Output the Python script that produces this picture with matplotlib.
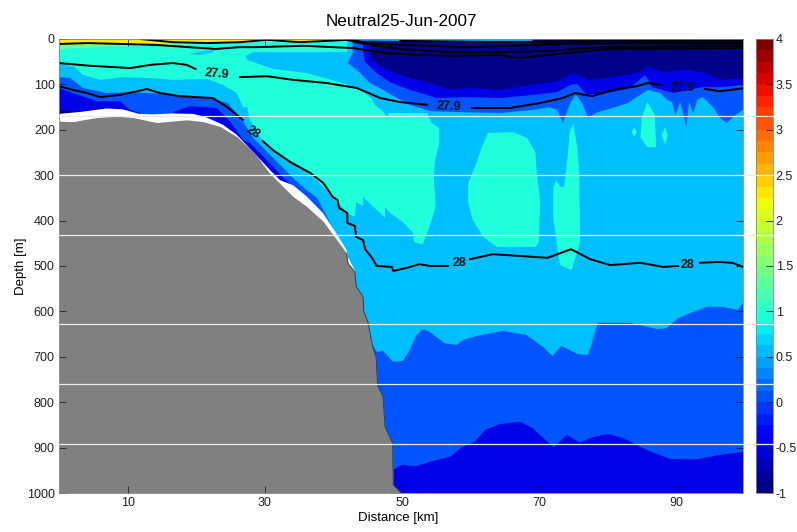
import numpy as np
from matplotlib import pyplot as plt
from matplotlib.cm import ScalarMappable
from matplotlib.colors import Normalize

plt.rcParams['font.family'] = ['Liberation Sans', 'DejaVu Sans']

# all outlines are (distance km, depth m) read from the section
turq_big = [(0,0),(42,0),(42,29),(46,145),(47.5,163),(50.7,163),(53.6,163),(54.3,185),(55.4,196),(55.4,229),
            (54.8,267),(54.6,304),(54.9,370),(53.8,421),(53,452),(51.7,447),(51.6,427),(50.1,403),(48.2,383),
            (47.5,370),(47.5,394),(44.3,348),(44.3,368),(43.3,359),(43.1,392),(42,383),(37.6,311),(34.7,278),
            (32.2,256),(29.3,216),(27.8,178),(27.4,150),(26.8,150),(25.9,119),(23.9,101),(21.6,88),(16.6,90),
            (13.3,86),(9.3,84),(6,90),(3.5,79),(2.3,62),(0,53)]
sky_patch = [(27.2,37),(28.3,29),(42,29),(48,29),(48,172),(47.8,172),(46.3,139),(43.9,112),(40.9,95),(36.1,75),
             (31.2,66),(27.4,46)]
sky_spot = [(19.1,33),(20.5,28),(22.8,24),(22.3,30),(20.5,35)]
turq_mid = [(62.5,207),(66.1,205),(68.2,218),(69.4,249),(69.6,295),(70.1,355),(69.9,449),(69.4,458),(63.8,458),
            (61.8,436),(60.3,399),(59.6,361),(59.6,317),(60.6,282),(61.6,238)]
turq_spike = [(74.9,185),(75.5,238),(75.8,295),(75.9,427),(75.9,449),(74.9,498),(74.7,509),(73,498),(72.6,458),
              (72,392),(72,328),(72.4,311),(73.1,326),(73.6,326),(74,273),(74.4,207)]
turq_right = [(85.7,139),(86.8,167),(87,238),(85.7,238),(84.7,216),(84.9,174)]
turq_dot1 = [(83.4,205),(83.8,195),(84.2,205),(83.8,215)]
turq_dot2 = [(87.8,212),(88.3,194),(88.7,212),(88.3,232)]

deep_blue_edge = [(45.7,674),(46.3,689),(47.2,687),(48.7,711),(50.1,709),(51.1,685),(52,654),(53,639),(54,645),
                  (56.2,670),(57.9,674),(58.9,663),(60.9,654),(64.7,643),(68.1,652),(70.5,678),(71.9,698),
                  (73.2,676),(75.6,694),(77.1,696),(78.5,625),(83.2,625),(87.1,639),(88.5,637),(90.2,615),
                  (92.4,601),(94.4,590),(96.7,590),(98.9,597),(100,575)]
bottom_edge = [(48.7,949),(49.9,938),(52.1,941),(54.1,931),(57,920),(58.7,899),(60.6,887),(62.1,861),(64.3,848),
               (67.2,843),(69,857),(71,885),(72.1,899),(74,872),(75.9,889),(77.8,877),(80,870),(82.2,879),
               (85.6,905),(89,925),(92.9,926),(96.3,916),(100,909)]

top_blue_edge = [(42.8,29),(42.1,53),(43.9,75),(45.3,97),(47.2,112),(49.7,134),(51.1,145),(54.1,159),(58.4,161),
                 (64.3,163),(69.1,156),(71.5,150),(72.6,156),(73.4,185),(74.5,141),(75.3,123),(76.2,141),
                 (77.1,174),(78.5,161),(80.7,152),(82.9,141),(84.7,123),(85.8,112),(87.6,119),(88.6,134),
                 (89.3,139),(89.8,167),(90.5,139),(90.9,163),(91.4,194),(91.8,139),(92.4,163),(93,134),
                 (93.8,128),(95.3,150),(96.3,174),(97.3,185),(98.2,172),(100,152)]
top_dark_edge = [(44.3,29),(44.6,51),(46.3,75),(48.2,95),(51.1,112),(55.1,130),(59.4,128),(64.3,130),(69.1,123),
                 (72.6,117),(74.5,101),(75.5,99),(76.9,123),(80.7,117),(83.2,108),(85.4,79),(86.4,106),
                 (89.5,119),(93.8,106),(96.3,106),(100,101)]
top_navy_edge = [(45.3,29),(45.6,46),(47.8,68),(50.7,84),(54.1,97),(57,112),(59.4,108),(64.3,112),(69.1,101),
                 (72.6,93),(74.9,75),(77.4,90),(80.7,84),(84.2,75),(85.7,62),(88,73),(90.9,68),(93.8,73),
                 (96.3,90),(100,86)]
surface_black = [(69,0),(69,9),(72,13),(100,13),(100,0)]
surface_teal = [(42,0),(42,3),(50,4),(69,4),(69,0)]
surface_green = [(0,0),(0,22),(7,17),(14,13),(22,11),(28,7),(28,0)]
surface_yellow = [(0,0),(0,9),(10,11),(20,9),(27.8,7),(35,6),(41.4,3),(42,0)]
surface_red = [(0,0),(0,2),(4,2),(4,0)]

slope_blue = [(0,84),(1.6,86),(3.5,108),(7,119),(10.3,117),(13.3,119),(16.6,123),(21.6,128),(24.5,141),(26.4,172),
              (28.3,218),(31.2,262),(34.1,306),(36.1,333),(37.6,350),(39.9,416),(39.9,500),(0,500)]
slope_dark1 = [(0,108),(2,119),(5.5,137),(8.9,137),(10.3,156),(11.8,163),(11.8,250),(0,250)]
slope_dark2 = [(16.6,161),(19.1,148),(23,152),(24.9,181),(26.8,222),(27.8,229),(30.7,273),(32.6,304),(35.4,344),
               (35.4,400),(16.6,300)]
slope_navy = [(0,155),(2.4,160),(5,165),(5,200),(0,200)]
white_gap = [(0,165),(3.5,160),(6.9,153),(9.3,155),(11.7,165),(13.7,166),(16.6,164),(19.5,165),(21.4,172),(23.9,189),
             (25.9,211),(27.8,241),(30.7,288),(32.2,311),(34.1,322),(36.1,347),(38.5,384),(40.7,435),(41.9,465),
             (42.1,480),(43.1,510),(43.3,545),(43.3,1000),(0,1000)]

bottom_km = [0,2.1,3.5,5.5,8.4,10.8,14.2,15.7,18.6,21,23.5,25.9,28.3,30.7,34.1,36.1,38.5,40.7,41.9,42.1,43.1,43.3,
             44.3,44.4,45,45.7,46.2,46.4,47.2,47.5,48.6,48.7,49.9]
bottom_m = [181,182,178,173,170,173,184,182,178,182,193,215,248,296,347,369,402,447,472,494,513,545,568,600,623,678,
            700,762,788,854,890,982,1000]

lines = [
    [(0,104),(2,112),(4.1,119),(6,128),(8.9,123),(11.4,115),(12.8,110),(14.7,119),(17.6,126),(22.4,130),(24.5,150),(26.8,178)],
    [(29.7,225),(31.2,245),(33.7,271),(36.6,295),(38.5,317),(39.9,348),(40.6,355),(40.8,372),(42,383),(42,405),(43.1,412),
     (43.3,436),(44.3,443),(44.6,463),(45.6,482),(46.3,500),(48.5,502),(48.7,511),(50.7,504),(52.5,496),(54.1,500),(56.7,500)],
    [(59.9,485),(63.2,474),(67.2,478),(71.2,482),(74.6,463),(77.4,485),(80.3,498),(84.7,493),(88,502),(90.2,500)],
    [(93.4,493),(96,491),(98.1,493),(100,504)],
    [(0,53),(4.5,59),(10.4,64),(13.3,57),(16.6,53),(18.6,57),(19.9,66)],
    [(26.4,84),(30.3,82),(34.1,90),(39,97),(43.4,108),(46.8,130),(49.7,139),(53.6,145)],
    [(60.2,152),(65.7,152),(70.1,141),(73.4,130),(75.2,119),(77.7,126),(80.7,112),(84.2,104),(85.8,97),(87.6,101)],
    [(94.1,110),(96.3,115),(100,108)],
    [(0,11),(4.2,9),(9.3,11),(14.1,13),(18.9,18),(22.8,22),(26.2,18),(28.7,18),(35.7,15),(42.8,20),(47.6,31),(52.6,35),
     (57.4,37),(64.3,35),(66.7,42),(74,31),(79.8,22),(100,20)],
    [(11.8,0),(16.6,7),(21.6,9),(26.4,7),(30.3,2),(35.1,7),(42,2),(43.9,9),(49.7,22),(57,29),(64.3,29),(71.5,26),(78.8,18),(100,15)],
    [(42.3,0),(44.9,9),(49.7,13),(59.4,18),(78.8,9),(100,9)],
    [(49.7,4),(64.3,7),(100,2)],
]
labels = [(23,77,'27.9',-5),(56.8,150,'27.9',-3),(90.8,108,'27.9',0),(28.3,205,'28',-35),(58.3,493,'28',0),(91.6,498,'28',0)]
white_depths = [170,300,432,628,760,892]

SKY = '#00bfff'
TURQ = '#20ffdc'
BLUE = '#0055ff'
DARK = '#0000e8'
NAVY = '#000088'


def poly(ax, pts, color):
    x, y = zip(*pts)
    ax.fill(x, y, color=color, lw=0)


def lower(ax, edge, color):
    x, y = zip(*edge)
    ax.fill(list(x) + [x[-1], x[0]], list(y) + [1000, 1000], color=color, lw=0)


def upper(ax, edge, color):
    x, y = zip(*edge)
    ax.fill(list(x) + [x[-1], x[0]], list(y) + [0, 0], color=color, lw=0)


fig = plt.figure(figsize=(7.97, 5.32), dpi=100)
ax = fig.add_axes([59/797, 1-493/532, 684/797, 454/532])
ax.set_facecolor(SKY)

poly(ax, turq_big, TURQ)
poly(ax, sky_patch, SKY)
poly(ax, sky_spot, SKY)
for p in [turq_mid, turq_spike, turq_right, turq_dot1, turq_dot2]:
    poly(ax, p, TURQ)
lower(ax, deep_blue_edge, BLUE)
lower(ax, bottom_edge, DARK)
upper(ax, top_blue_edge, BLUE)
upper(ax, top_dark_edge, DARK)
upper(ax, top_navy_edge, NAVY)
poly(ax, surface_green, '#70ff90')
poly(ax, surface_yellow, '#ffe800')
poly(ax, surface_red, '#ff6000')
poly(ax, surface_teal, '#00d8f0')
poly(ax, surface_black, '#000040')
poly(ax, slope_blue, BLUE)
poly(ax, slope_dark1, DARK)
poly(ax, slope_dark2, DARK)
poly(ax, slope_navy, NAVY)
poly(ax, white_gap, 'white')
ax.fill_between(bottom_km, bottom_m, 1000, color='#808080', lw=0)
ax.plot(bottom_km[18:], bottom_m[18:], color='#333333', lw=0.6)

for l in lines:
    x, y = zip(*l)
    ax.plot(x, y, color='black', lw=1.4)
for x, y, s, r in labels:
    ax.text(x, y, s, ha='center', va='center', rotation=r, fontsize=9, fontweight='bold', color='#111111')

ax.set_xlim(0, 99.65)
ax.set_ylim(1000, 0)
ax.set_xticks([10, 30, 50, 70, 90])
ax.set_yticks(np.arange(0, 1001, 100))
ax.tick_params(direction='in', top=True, right=True, length=5, width=0.6, labelsize=9, colors='#222222', pad=3)
ax.set_xlabel('Distance [km]', fontsize=9.5, labelpad=2, x=0.496)
ax.set_ylabel('Depth [m]', fontsize=9.5, labelpad=0)
ax.set_title('Neutral25-Jun-2007', fontsize=12.3, pad=9)
for s in ax.spines.values():
    s.set_color('#888888')
    s.set_linewidth(0.6)

cax = fig.add_axes([756/797, 1-493/532, 17/797, 454/532])
cb = fig.colorbar(ScalarMappable(norm=Normalize(-1, 4), cmap=plt.get_cmap('jet').resampled(40)), cax=cax)
cb.set_ticks(np.arange(-1, 4.01, 0.5))
cb.set_ticklabels(['-1', '-0.5', '0', '0.5', '1', '1.5', '2', '2.5', '3', '3.5', '4'])
cb.ax.tick_params(direction='in', length=5, width=0.6, labelsize=9, pad=2, colors='#222222')
cb.outline.set_edgecolor('#888888')
cb.outline.set_linewidth(0.6)

ax.set_zorder(5)
for d in white_depths:
    ax.plot([0, 1.044], [d, d], color='#ebebeb', lw=0.9, clip_on=False,
            transform=ax.get_yaxis_transform(), zorder=6)

fig.savefig('out.png', dpi=100)
